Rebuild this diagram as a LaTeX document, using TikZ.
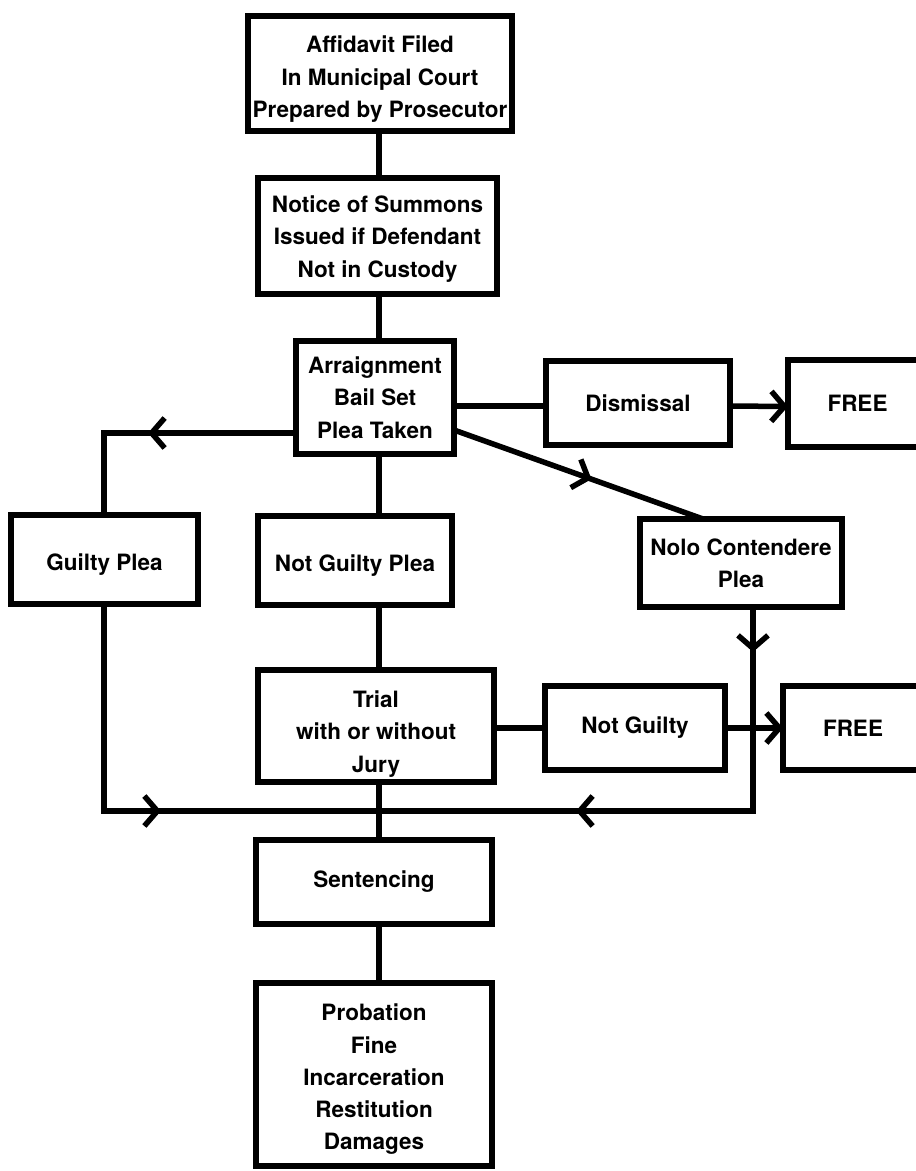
\documentclass[tikz,border=0pt]{standalone}
\usepackage{fontspec}
\setmainfont{TeX Gyre Heros}
\usetikzlibrary{arrows.meta,decorations.markings}
% tall strut on a first line: sinks the whole text block inside its box
\newcommand\pushdown[1]{\rule{0pt}{#1}}
\begin{document}
\begin{tikzpicture}[x=1pt,y=-1pt,
  box/.style={draw, line width=6pt, align=center, inner sep=1pt, outer sep=0pt,
    font=\bfseries\fontsize{22.5}{32.3}\selectfont},
  wire/.style={line width=5.5pt},
  >={Straight Barb[length=13pt,width=30pt]},
  midarrow/.style={postaction={decorate},
    decoration={markings, mark=at position #1 with {\arrow{>}}}}]

% page frame
\useasboundingbox (0,0) rectangle (916,1171);
\fill[white] (0,0) rectangle (916,1171);
\clip (0,0) rectangle (916,1171);

% main column
\node[box, minimum width=264pt, minimum height=115pt] (aff) at (380,73.5)
  {\pushdown{28.5pt}Affidavit Filed\\In Municipal Court\\Prepared by Prosecutor};
\node[box, minimum width=239pt, minimum height=116pt] (notice) at (377.5,236)
  {\pushdown{22.5pt}Notice of Summons\\Issued if Defendant\\Not in Custody};
\node[box, minimum width=158pt, minimum height=113pt] (arr) at (375,397.5)
  {Arraignment\\Bail Set\\Plea Taken};
\node[box, minimum width=194pt, minimum height=89pt] (ngp) at (355,560.5)
  {\pushdown{26.5pt}Not Guilty Plea};
\node[box, minimum width=236pt, minimum height=112pt] (trial) at (376,726)
  {\pushdown{32.5pt}Trial\\with or without\\Jury};
\node[box, minimum width=236pt, minimum height=84pt] (sent) at (374,882)
  {Sentencing};
\node[box, minimum width=236pt, minimum height=183pt] (prob) at (374,1074.5)
  {\pushdown{26.5pt}Probation\\Fine\\Incarceration\\Restitution\\Damages};

% side branches
\node[box, minimum width=187pt, minimum height=89pt] (gp) at (104.5,559.5)
  {\pushdown{26.5pt}Guilty Plea};
\node[box, minimum width=184pt, minimum height=84pt] (dis) at (638,403)
  {Dismissal};
\node[box, minimum width=139pt, minimum height=87pt] (free1) at (857.5,403.5)
  {FREE};
\node[box, minimum width=202pt, minimum height=88pt] (nolo) at (741,563)
  {Nolo Contendere\\Plea};
\node[box, minimum width=180pt, minimum height=84pt] (ng) at (635,728)
  {Not Guilty};
\node[box, minimum width=140pt, minimum height=84pt] (free2) at (853,728)
  {FREE};

% routing points
\coordinate (sp) at (379,0);
\coordinate (gl) at (104,433);
\coordinate (jn) at (379,811);
\coordinate (nl) at (753,0);

% spine
\draw[wire] (aff.south -| sp) -- (notice.north -| sp);
\draw[wire] (notice.south -| sp) -- (arr.north -| sp);
\draw[wire] (arr.south -| sp) -- (ngp.north -| sp);
\draw[wire] (ngp.south -| sp) -- (trial.north -| sp);
\draw[wire] (trial.south -| sp) -- (sent.north -| sp);
\draw[wire] (sent.south -| sp) -- (prob.north -| sp);

% guilty plea loop
\draw[wire, midarrow=148pt] (arr.west |- gl) -- (gl) -- (gp.north -| gl);
\draw[wire, midarrow=264pt] (gp.south -| gl) -- (gl |- jn) -- (jn);

% dismissal
\draw[wire] ([yshift=-3pt]arr.east |- dis.west) -- ([yshift=-3pt]dis.west);
\draw[wire, ->] ([yshift=-3pt]dis.east) -- ([yshift=-3pt]free1.west);

% nolo contendere
\draw[wire, midarrow=146pt] ([yshift=-32.5pt]arr.east) -- ([xshift=-38pt]nolo.north);
\draw[wire, postaction={decorate},
  decoration={markings,
    mark=at position 45pt with {\arrow{>}},
    mark=at position 381pt with {\arrow{>}}}]
  (nolo.south -| nl) -- (nl |- jn) -- (jn);

% trial outcome
\draw[wire] (trial.east |- ng.west) -- (ng.west);
\draw[wire, ->] (ng.east) -- (free2.west);
\end{tikzpicture}
\end{document}
